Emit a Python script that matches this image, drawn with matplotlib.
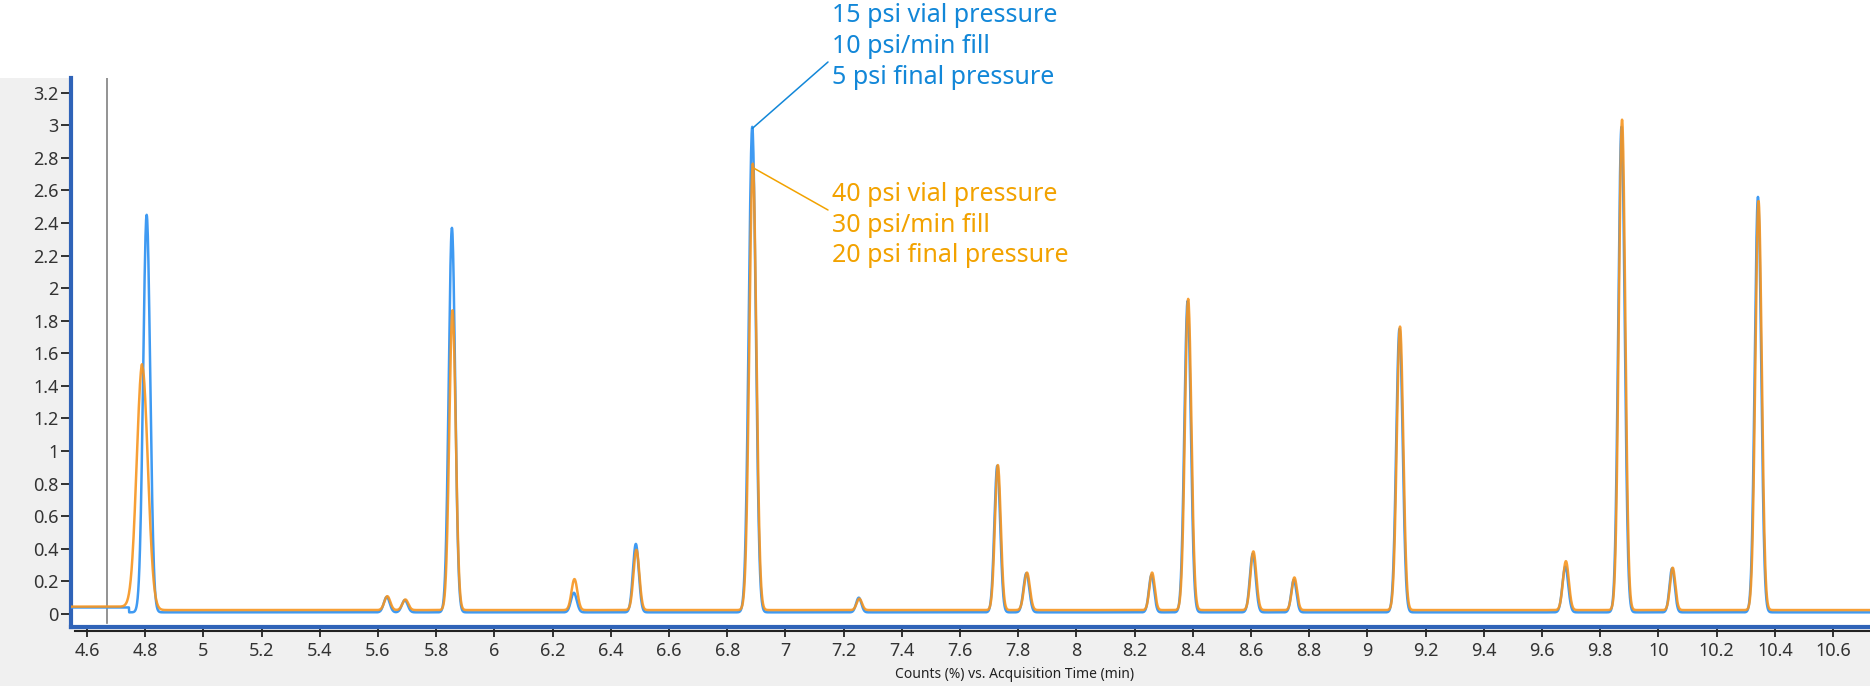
import numpy as np
import matplotlib.pyplot as plt
from matplotlib.patches import Rectangle
from matplotlib.lines import Line2D

plt.rcParams['font.family'] = ['Noto Sans', 'DejaVu Sans']

# peak table: retention time (min), height (counts %), width (sigma, min)
rt = [4.805, 5.630, 5.692, 5.854, 6.273, 6.486, 6.886, 7.252, 7.728, 7.828,
      8.258, 8.382, 8.606, 8.747, 9.110, 9.680, 9.873, 10.047, 10.342]
h_blue = [2.44, 0.095, 0.075, 2.36, 0.12, 0.42, 2.98, 0.09, 0.90, 0.24,
          0.23, 1.91, 0.36, 0.20, 1.74, 0.28, 2.98, 0.27, 2.55]
h_orange = [1.49, 0.085, 0.065, 1.84, 0.19, 0.37, 2.74, 0.07, 0.89, 0.23,
            0.23, 1.91, 0.36, 0.20, 1.74, 0.30, 3.01, 0.26, 2.51]
sig = [0.012, 0.010, 0.010, 0.011, 0.010, 0.010, 0.012, 0.009, 0.010, 0.010,
       0.009, 0.011, 0.010, 0.009, 0.011, 0.010, 0.011, 0.009, 0.011]
# first orange peak is broader and sits a little earlier
rt_orange_shift = [-0.015] + [0.002] * 18
sig_orange = [0.019] + sig[1:]

# baseline levels (before / after the solvent front)
base_pre = {"blue": 0.040, "orange": 0.045}
base_post = {"blue": 0.010, "orange": 0.024}
t_front = {"blue": 4.745, "orange": 4.79}

t = np.arange(4.54, 10.74, 0.001)


def trace(heights, centres, widths, key):
    y = np.where(t < t_front[key], base_pre[key], base_post[key])
    for c, hh, s in zip(centres, heights, widths):
        y = y + hh * np.exp(-0.5 * ((t - c) / s) ** 2)
    return y


blue = trace(h_blue, rt, sig, "blue")
orange = trace(h_orange, [r + d for r, d in zip(rt, rt_orange_shift)], sig_orange, "orange")

fig = plt.figure(figsize=(18.7, 6.86), dpi=100)
fig.patch.set_facecolor("white")

W, H = 1870, 686
ax_left, ax_bottom, ax_top = 71, 627, 78
# grey panel around the plot (behind everything)
fig.patches.append(Rectangle((0, 0), ax_left / W, 1 - ax_top / H, transform=fig.transFigure,
                             facecolor="#f0f0f0", edgecolor="none", zorder=-10))
fig.patches.append(Rectangle((0, 0), 1, 1 - ax_bottom / H, transform=fig.transFigure,
                             facecolor="#f0f0f0", edgecolor="none", zorder=-10))

ax = fig.add_axes([ax_left / W, 1 - ax_bottom / H, 1 - ax_left / W, (ax_bottom - ax_top) / H])
ax.set_facecolor("white")

ax.plot(t, blue, color="#3f9af2", lw=1.8, zorder=3)
ax.plot(t, orange, color="#f7951f", lw=1.8, alpha=0.9, zorder=4)

ax.set_xlim(4.545, 10.727)
ax.set_ylim(-0.08, 3.29)
ax.axvline(4.669, ymin=0.007, ymax=1, color="#808080", lw=1.2, zorder=2)

xt = np.round(np.arange(4.6, 10.7, 0.2), 1)
yt = np.round(np.arange(0, 3.3, 0.2), 1)
ax.set_xticks(xt)
ax.set_xticklabels(["%g" % v for v in xt])
ax.set_yticks(yt)
ax.set_yticklabels(["%g" % v for v in yt])
ax.tick_params(axis="both", direction="out", length=7, width=1.3, color="#222222",
               labelsize=13, labelcolor="#333333")
ax.tick_params(axis="x", pad=4)
ax.tick_params(axis="y", pad=2)

for s in ["top", "right"]:
    ax.spines[s].set_visible(False)
for s in ["left", "bottom"]:
    ax.spines[s].set_color("#2f63b8")
    ax.spines[s].set_linewidth(3)

# black x axis line just under the blue frame
fig.lines.append(Line2D([ax_left / W + 0.002, 1], [1 - 631 / H] * 2, transform=fig.transFigure,
                        color="#222222", lw=1.5))

fig.text(1015 / W, 1 - 674 / H, "Counts (%) vs. Acquisition Time (min)", ha="center", va="center",
         fontsize=10, color="#222222")

# annotations
blue_txt = ["15 psi vial pressure", "10 psi/min fill", "5 psi final pressure"]
orange_txt = ["40 psi vial pressure", "30 psi/min fill", "20 psi final pressure"]
for i, s in enumerate(blue_txt):
    fig.text(832 / W, 1 - (16 + 30.5 * i) / H, s, ha="left", va="center", fontsize=18, color="#1287d8")
for i, s in enumerate(orange_txt):
    fig.text(832 / W, 1 - (194.5 + 30.5 * i) / H, s, ha="left", va="center", fontsize=18, color="#f2a200")

ax.annotate("", xy=(rt[6], h_blue[6]), xytext=(828, H - 62), textcoords="figure pixels",
            arrowprops=dict(arrowstyle="-", color="#1287d8", lw=1.1, shrinkA=0, shrinkB=0),
            annotation_clip=False)
ax.annotate("", xy=(rt[6] + 0.002, h_orange[6]), xytext=(828, H - 210), textcoords="figure pixels",
            arrowprops=dict(arrowstyle="-", color="#f2a200", lw=1.1, shrinkA=0, shrinkB=0),
            annotation_clip=False)

fig.savefig("out.png", dpi=100, facecolor=fig.get_facecolor())
